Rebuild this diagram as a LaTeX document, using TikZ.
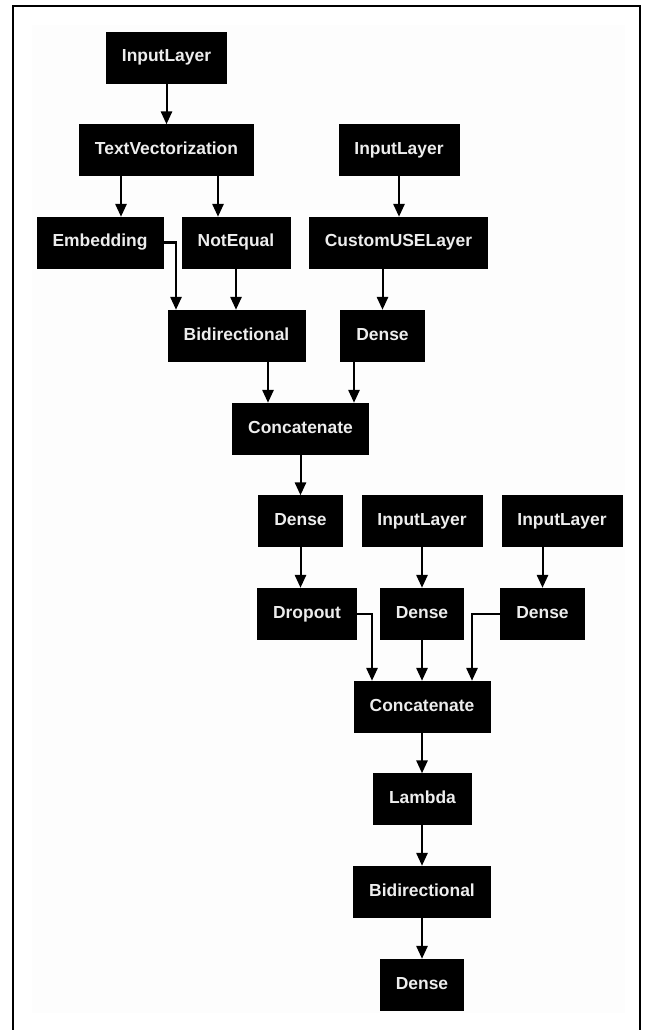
\documentclass[tikz,border=0pt]{standalone}
\usepackage{fontspec}
\setmainfont{Liberation Sans}
\usetikzlibrary{arrows.meta}

\begin{document}
\begin{tikzpicture}[x = .025cm, y = -.025cm]
	\tikzset{layer/.style={draw=black, fill=black, text=white!93!black, font=\bfseries\fontsize{12.4}{14}\selectfont, inner xsep=.39cm, inner ysep=0pt, text height=9pt, text depth=2.6pt, minimum height=1.275cm}}
	\tikzset{arr/.style={line width=.05cm, -{Triangle[length=.32cm, width=.28cm]}}}
	
	\useasboundingbox (0,0) rectangle (644,1030);
	\fill[black!0.8] (32,25) rectangle (625,1013);
	\draw[line width=.05cm] (13,1030) |- (640,6) -- (640,1030);
	
	\node[layer] (in_1) at (166.5,57.5) {InputLayer};
	\node[layer] (tv) at (166.5,150) {TextVectorization};
	\node[layer] (in_2) at (399,150) {InputLayer};
	\node[layer] (emb) at (100,242.5) {Embedding};
	\node[layer] (neq) at (236,242.5) {NotEqual};
	\node[layer] (use) at (398.5,242.5) {CustomUSELayer};
	\node[layer] (bi_1) at (236.5,335.5) {Bidirectional};
	\node[layer] (dense_1) at (382.5,335.5) {Dense};
	\node[layer] (cat_1) at (300.5,428.5) {Concatenate};
	\node[layer] (dense_2) at (300.5,521) {Dense};
	\node[layer] (in_3) at (422,521) {InputLayer};
	\node[layer] (in_4) at (562,521) {InputLayer};
	\node[layer] (drop) at (307,613.5) {Dropout};
	\node[layer] (dense_3) at (422,613.5) {Dense};
	\node[layer] (dense_4) at (542.5,613.5) {Dense};
	\node[layer] (cat_2) at (422,706.5) {Concatenate};
	\node[layer] (lam) at (422.5,799) {Lambda};
	\node[layer] (bi_2) at (422,891.5) {Bidirectional};
	\node[layer] (dense_5) at (422,984.5) {Dense};
	
	\draw[arr] (in_1) -- (tv);
	\draw[arr] (tv.south -| 121,0) -- (emb.north -| 121,0);
	\draw[arr] (tv.south -| 218,0) -- (neq.north -| 218,0);
	\draw[arr] (in_2) -- (use.north -| in_2);
	\draw[arr] (emb.east) -| (bi_1.north -| 176,0);
	\draw[arr] (neq) -- (bi_1.north -| neq);
	\draw[arr] (use.south -| dense_1) -- (dense_1);
	\draw[arr] (bi_1.south -| 268,0) -- (cat_1.north -| 268,0);
	\draw[arr] (dense_1.south -| 354,0) -- (cat_1.north -| 354,0);
	\draw[arr] (cat_1) -- (dense_2);
	\draw[arr] (dense_2) -- (drop.north -| dense_2);
	\draw[arr] (in_3) -- (dense_3);
	\draw[arr] (in_4.south -| dense_4) -- (dense_4);
	\draw[arr] (drop.east) -| (cat_2.north -| 372,0);
	\draw[arr] (dense_3) -- (cat_2);
	\draw[arr] (dense_4.west) -| (cat_2.north -| 472,0);
	\draw[arr] (cat_2) -- (lam.north -| cat_2);
	\draw[arr] (lam.south -| bi_2) -- (bi_2);
	\draw[arr] (bi_2) -- (dense_5);
	
\end{tikzpicture}
\end{document}
